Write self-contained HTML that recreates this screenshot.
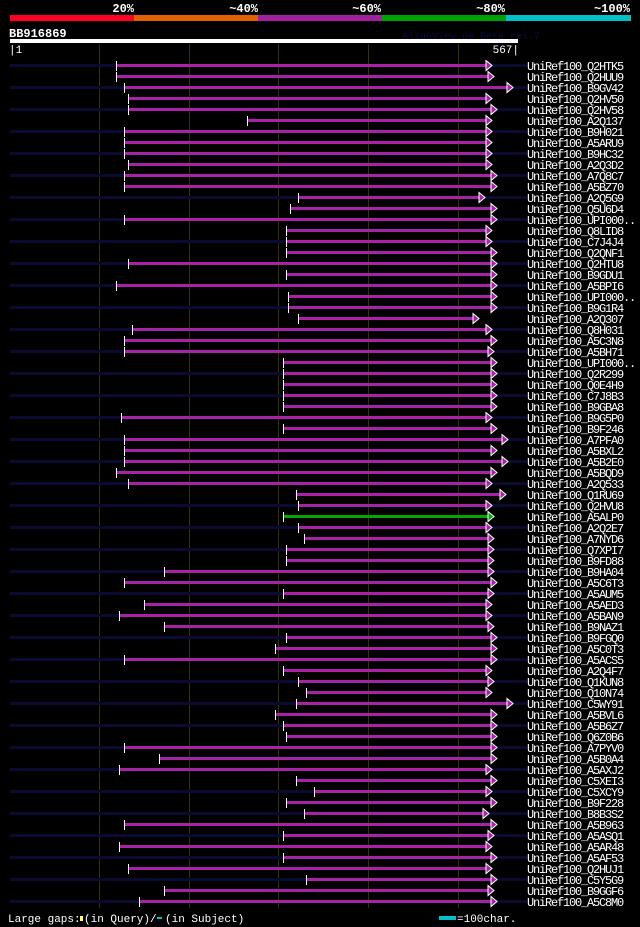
<!DOCTYPE html>
<html><head><meta charset="utf-8"><style>
html,body{margin:0;padding:0;background:#000;width:640px;height:927px;overflow:hidden}
svg{display:block}
text{font-family:"Liberation Mono","DejaVu Sans Mono",monospace}
</style></head><body>
<svg id="chart" width="640" height="927" viewBox="0 0 640 927" xmlns="http://www.w3.org/2000/svg" shape-rendering="crispEdges">
<g>
<rect x="10" y="15" width="124" height="6" fill="#ff0022"/>
<rect x="134" y="15" width="124" height="6" fill="#e06000"/>
<rect x="258" y="15" width="124" height="6" fill="#a020a0"/>
<rect x="382" y="15" width="124" height="6" fill="#00a000"/>
<rect x="506" y="15" width="125" height="6" fill="#00c0c8"/>
<g font-weight="bold" font-size="12" fill="#fff" text-anchor="end">
<text x="134" y="12">20%</text>
<text x="258" y="12">~40%</text>
<text x="381" y="12">~60%</text>
<text x="505" y="12">~80%</text>
<text x="630" y="12">~100%</text>
</g></g>
<text x="9" y="37" font-size="12" font-weight="bold" fill="#fff">BB916869</text>
<text x="402" y="39" font-size="10" fill="#0a0a44">AlignView.pm Beta rel.7</text>
<rect x="10" y="39" width="508" height="4" fill="#fff"/>
<text x="9" y="53" font-size="11" fill="#fff">|1</text>
<text x="519" y="53" font-size="11" fill="#fff" text-anchor="end">567|</text>
<g id="grid"></g>
<g id="rows"></g>
<g font-size="11" fill="#fff">
<text x="8" y="922">Large gaps:</text>
<rect x="80" y="916" width="3" height="5" fill="#ffff66"/>
<text x="84" y="922">(in Query)/</text>
<rect x="157" y="917" width="5" height="2" fill="#00c0c8"/>
<text x="165" y="922">(in Subject)</text>
<rect x="439" y="916" width="17" height="4" fill="#00c0c8"/>
<text x="457" y="922">=100char.</text>
</g>
</svg>
<script>
const names=["Q2HTK5","Q2HUU9","B9GV42","Q2HV50","Q2HV58","A2Q137","B9H021","A5ARU9","B9HC32","A2Q3D2","A7Q8C7","A5BZ70","A2Q5G9","Q5U6D4","UPI000..","Q8LID8","C7J4J4","Q2QNF1","Q2HTU8","B9GDU1","A5BPI6","UPI000..","B9G1R4","A2Q307","Q8H031","A5C3N8","A5BH71","UPI000..","Q2R299","Q0E4H9","C7J8B3","B9GBA8","B9G5P0","B9F246","A7PFA0","A5BXL2","A5B2E0","A5BQD9","A2Q533","Q1RU69","Q2HVU8","A5ALP0","A2Q2E7","A7NYD6","Q7XPI7","B9FD88","B9HA04","A5C6T3","A5AUM5","A5AED3","A5BAN9","B9NAZ1","B9FGQ0","A5C0T3","A5ACS5","A2Q4F7","Q1KUN8","Q10N74","C5WY91","A5BVL6","A5B6Z7","Q6Z0B6","A7PYV0","A5B0A4","A5AXJ2","C5XEI3","C5XCY9","B9F228","B8B3S2","A5B963","A5ASQ1","A5AR48","A5AF53","Q2HUJ1","C5Y5G9","B9GGF6","A5C8M0"];
const starts=[119,119,128,132,132,265,128,128,128,132,128,128,322,313,128,308,308,308,132,308,119,311,311,322,137,128,128,305,305,305,305,305,125,305,128,128,128,119,132,320,322,305,322,329,308,308,173,128,305,150,123,173,308,296,128,305,322,331,320,296,305,308,128,167,123,320,340,308,329,128,305,123,305,132,331,173,145];
const ends=[531,534,555,531,537,531,531,531,531,531,537,537,524,537,537,531,531,537,537,537,537,537,537,517,531,537,534,537,537,537,537,537,531,537,549,537,549,537,531,547,531,534,531,534,534,534,534,537,534,531,531,534,537,537,537,531,534,531,555,537,537,537,537,537,531,537,531,537,528,537,534,531,537,531,537,534,537];
const identity=["p","p","p","p","p","p","p","p","p","p","p","p","p","p","p","p","p","p","p","p","p","p","p","p","p","p","p","p","p","p","p","p","p","p","p","p","p","p","p","p","p","g","p","p","p","p","p","p","p","p","p","p","p","p","p","p","p","p","p","p","p","p","p","p","p","p","p","p","p","p","p","p","p","p","p","p","p"];
const gridTicks=[100,200,300,400,500];
const QLEN=567;
const NS="http://www.w3.org/2000/svg";
function xScale(p){return 10+(p-1)*508/(QLEN-1);}
function yRow(i){return 65+i*11;}
function mk(tag,attrs,parent){const e=document.createElementNS(NS,tag);for(const k in attrs)e.setAttribute(k,attrs[k]);parent.appendChild(e);return e;}
const grid=document.getElementById('grid');
gridTicks.forEach(t=>{
  const gx=Math.round(xScale(t));
  const l=mk('rect',{x:gx,y:44,width:1,height:864,fill:'#33330a'},grid);
  
  
});
const rows=document.getElementById('rows');
names.forEach((n,i)=>{
  const y=yRow(i);
  const g=mk('g',{},rows);
  
  
  if(i%2===0){
    const bg=mk('rect',{x:10,y:y-1,width:517,height:3,fill:'#0a0a33'},g);
    
    
  }
  const x0=Math.round(xScale(starts[i])),x1=Math.round(xScale(ends[i]));
  const col=identity[i]==='g'?'#00a800':'#a822a8';
  const bar=mk('rect',{x:x0,y:y-1,width:x1-x0,height:3,fill:col},g);
  
  
  const tk=mk('rect',{x:x0,y:y-4,width:1,height:10,fill:'#fff'},g);
  
  
  const ar=mk('polygon',{points:`${x1},${y-4.5} ${x1+6},${y+0.5} ${x1},${y+5.5}`,fill:col,stroke:'#fff','stroke-width':1,'shape-rendering':'auto'},g);
  
  
  const t=mk('text',{x:527,y:y+5,'font-size':12,'letter-spacing':'-1.2',fill:'#fff'},g);
  t.textContent='UniRef100_'+n;
  
  
});
</script>
</body></html>
